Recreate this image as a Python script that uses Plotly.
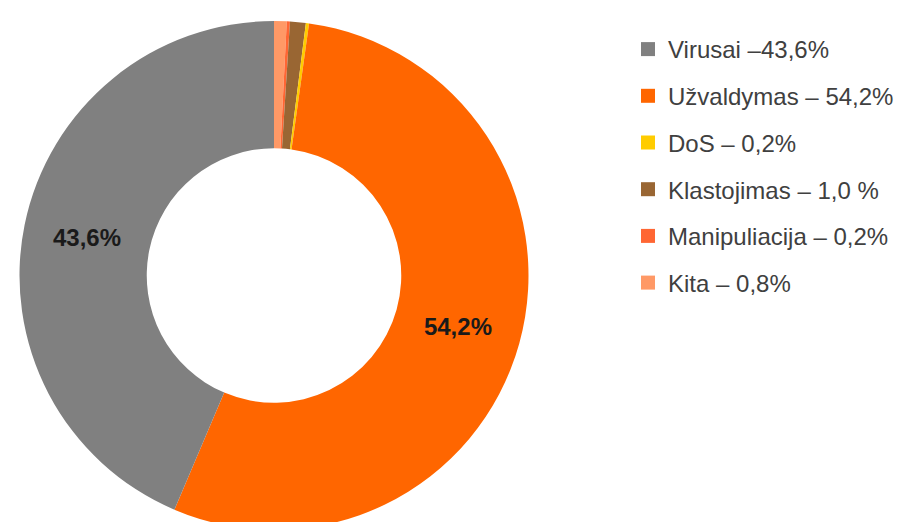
import plotly.graph_objects as go

# ---- data ----
categories = ["Virusai", "Užvaldymas", "DoS", "Klastojimas", "Manipuliacija", "Kita"]
shares = [43.6, 54.2, 0.2, 1.0, 0.2, 0.8]
legend_labels = ["Virusai –43,6%", "Užvaldymas – 54,2%", "DoS – 0,2%",
                 "Klastojimas – 1,0 %", "Manipuliacija – 0,2%", "Kita – 0,8%"]
slice_labels = ["43,6%", "54,2%", "", "", "", ""]
colors = ["#808080", "#FF6600", "#FFCC00", "#996633", "#FF6633", "#FF9966"]

W, H = 904, 522

fig = go.Figure()

# slices run counter-clockwise from 12 o'clock in the reference:
# drawn clockwise in reverse order
fig.add_trace(go.Pie(
    labels=categories[::-1],
    values=shares[::-1],
    text=slice_labels[::-1],
    texttemplate="%{text}",
    textposition="inside",
    insidetextorientation="horizontal",
    textfont=dict(family="Arial, Liberation Sans, sans-serif", size=24,
                  color="#1a1a1a", weight="bold"),
    sort=False,
    direction="clockwise",
    rotation=0,
    hole=0.5,
    marker=dict(colors=colors[::-1], line=dict(width=0)),
    showlegend=False,
    hoverinfo="label+percent",
    domain=dict(x=[11.5 / W, 520.5 / W], y=[0, 1 - 13 / H]),
))

# legend entries (one group per category so the spacing can be set)
for i, (lab, col) in enumerate(zip(legend_labels, colors)):
    fig.add_trace(go.Scatter(
        x=[None], y=[None], mode="markers",
        marker=dict(symbol="square", size=14, color=col),
        name=lab, legendgroup=f"g{i}", showlegend=True,
    ))

fig.update_layout(
    width=W, height=H,
    margin=dict(l=0, r=0, t=0, b=0),
    paper_bgcolor="white", plot_bgcolor="white",
    xaxis=dict(visible=False), yaxis=dict(visible=False),
    legend=dict(
        x=620 / W, xanchor="left", y=1 - 19 / H, yanchor="top",
        font=dict(family="Arial, Liberation Sans, sans-serif", size=24, color="#404040"),
        tracegroupgap=12.5, itemsizing="trace",
        bgcolor="rgba(0,0,0,0)",
    ),
)

fig.write_html("out.html")
